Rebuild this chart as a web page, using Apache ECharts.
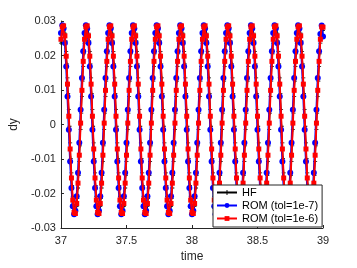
<!DOCTYPE html>
<html>
<head>
<meta charset="utf-8">
<script src="https://cdn.jsdelivr.net/npm/echarts@6/dist/echarts.min.js"></script>
<style>html,body{margin:0;padding:0;background:#fff}#c{width:357px;height:268px}</style>
</head>
<body>
<div id="c"></div>
<script>
// Sampling grids (time axis)
const tStart = 37;
const dtROM = 0.01;   // ROM samples
const dtHF = 0.005;   // HF samples

// HF dy values (t = 37 .. 39, step 0.005)
const hfValues = [
0.0236,0.0261,0.0278,0.0287,0.0288,0.0281,0.0265,0.0242,0.0212,0.0176,0.0135,0.0090,0.0043,-0.0005,-0.0053,-0.0098,-0.0140,-0.0177,-0.0208,-0.0233,-0.0250,-0.0259,-0.0260,-0.0253,-0.0237,-0.0214,-0.0184,-0.0148,-0.0107,-0.0062,-0.0015,0.0033,0.0081,0.0126,0.0168,0.0205,
0.0236,0.0261,0.0278,0.0287,0.0288,0.0281,0.0265,0.0242,0.0212,0.0176,0.0135,0.0090,0.0043,-0.0005,-0.0053,-0.0098,-0.0140,-0.0177,-0.0208,-0.0233,-0.0250,-0.0259,-0.0260,-0.0253,-0.0237,-0.0214,-0.0184,-0.0148,-0.0107,-0.0062,-0.0015,0.0033,0.0081,0.0126,0.0168,0.0205,
0.0236,0.0261,0.0278,0.0287,0.0288,0.0281,0.0265,0.0242,0.0212,0.0176,0.0135,0.0090,0.0043,-0.0005,-0.0053,-0.0098,-0.0140,-0.0177,-0.0208,-0.0233,-0.0250,-0.0259,-0.0260,-0.0253,-0.0237,-0.0214,-0.0184,-0.0148,-0.0107,-0.0062,-0.0015,0.0033,0.0081,0.0126,0.0168,0.0205,
0.0236,0.0261,0.0278,0.0287,0.0288,0.0281,0.0265,0.0242,0.0212,0.0176,0.0135,0.0090,0.0043,-0.0005,-0.0053,-0.0098,-0.0140,-0.0177,-0.0208,-0.0233,-0.0250,-0.0259,-0.0260,-0.0253,-0.0237,-0.0214,-0.0184,-0.0148,-0.0107,-0.0062,-0.0015,0.0033,0.0081,0.0126,0.0168,0.0205,
0.0236,0.0261,0.0278,0.0287,0.0288,0.0281,0.0265,0.0242,0.0212,0.0176,0.0135,0.0090,0.0043,-0.0005,-0.0053,-0.0098,-0.0140,-0.0177,-0.0208,-0.0233,-0.0250,-0.0259,-0.0260,-0.0253,-0.0237,-0.0214,-0.0184,-0.0148,-0.0107,-0.0062,-0.0015,0.0033,0.0081,0.0126,0.0168,0.0205,
0.0236,0.0261,0.0278,0.0287,0.0288,0.0281,0.0265,0.0242,0.0212,0.0176,0.0135,0.0090,0.0043,-0.0005,-0.0053,-0.0098,-0.0140,-0.0177,-0.0208,-0.0233,-0.0250,-0.0259,-0.0260,-0.0253,-0.0237,-0.0214,-0.0184,-0.0148,-0.0107,-0.0062,-0.0015,0.0033,0.0081,0.0126,0.0168,0.0205,
0.0236,0.0261,0.0278,0.0287,0.0288,0.0281,0.0265,0.0242,0.0212,0.0176,0.0135,0.0090,0.0043,-0.0005,-0.0053,-0.0098,-0.0140,-0.0177,-0.0208,-0.0233,-0.0250,-0.0259,-0.0260,-0.0253,-0.0237,-0.0214,-0.0184,-0.0148,-0.0107,-0.0062,-0.0015,0.0033,0.0081,0.0126,0.0168,0.0205,
0.0236,0.0261,0.0278,0.0287,0.0288,0.0281,0.0265,0.0242,0.0212,0.0176,0.0135,0.0090,0.0043,-0.0005,-0.0053,-0.0098,-0.0140,-0.0177,-0.0208,-0.0233,-0.0250,-0.0259,-0.0260,-0.0253,-0.0237,-0.0214,-0.0184,-0.0148,-0.0107,-0.0062,-0.0015,0.0033,0.0081,0.0126,0.0168,0.0205,
0.0236,0.0261,0.0278,0.0287,0.0288,0.0281,0.0265,0.0242,0.0212,0.0176,0.0135,0.0090,0.0043,-0.0005,-0.0053,-0.0098,-0.0140,-0.0177,-0.0208,-0.0233,-0.0250,-0.0259,-0.0260,-0.0253,-0.0237,-0.0214,-0.0184,-0.0148,-0.0107,-0.0062,-0.0015,0.0033,0.0081,0.0126,0.0168,0.0205,
0.0236,0.0261,0.0278,0.0287,0.0288,0.0281,0.0265,0.0242,0.0212,0.0176,0.0135,0.0090,0.0043,-0.0005,-0.0053,-0.0098,-0.0140,-0.0177,-0.0208,-0.0233,-0.0250,-0.0259,-0.0260,-0.0253,-0.0237,-0.0214,-0.0184,-0.0148,-0.0107,-0.0062,-0.0015,0.0033,0.0081,0.0126,0.0168,0.0205,
0.0236,0.0261,0.0278,0.0287,0.0288,0.0281,0.0265,0.0242,0.0212,0.0176,0.0135,0.0090,0.0043,-0.0005,-0.0053,-0.0098,-0.0140,-0.0177,-0.0208,-0.0233,-0.0250,-0.0259,-0.0260,-0.0253,-0.0237,-0.0214,-0.0184,-0.0148,-0.0107,-0.0062,-0.0015,0.0033,0.0081,0.0126,0.0168,0.0205,
0.0236,0.0261,0.0278,0.0285,0.0272
];

// ROM (tol=1e-7) dy values (t = 37 .. 39, step 0.01)
const rom7Values = [
0.0265,0.0288,0.0278,0.0236,0.0168,0.0081,-0.0015,-0.0107,-0.0184,-0.0237,-0.0260,-0.0250,-0.0208,-0.0140,-0.0053,0.0043,0.0135,0.0212,
0.0265,0.0288,0.0278,0.0236,0.0168,0.0081,-0.0015,-0.0107,-0.0184,-0.0237,-0.0260,-0.0250,-0.0208,-0.0140,-0.0053,0.0043,0.0135,0.0212,
0.0265,0.0288,0.0278,0.0236,0.0168,0.0081,-0.0015,-0.0107,-0.0184,-0.0237,-0.0260,-0.0250,-0.0208,-0.0140,-0.0053,0.0043,0.0135,0.0212,
0.0265,0.0288,0.0278,0.0236,0.0168,0.0081,-0.0015,-0.0107,-0.0184,-0.0237,-0.0260,-0.0250,-0.0208,-0.0140,-0.0053,0.0043,0.0135,0.0212,
0.0265,0.0288,0.0278,0.0236,0.0168,0.0081,-0.0015,-0.0107,-0.0184,-0.0237,-0.0260,-0.0250,-0.0208,-0.0140,-0.0053,0.0043,0.0135,0.0212,
0.0265,0.0288,0.0278,0.0236,0.0168,0.0081,-0.0015,-0.0107,-0.0184,-0.0237,-0.0260,-0.0250,-0.0208,-0.0140,-0.0053,0.0043,0.0135,0.0212,
0.0265,0.0288,0.0278,0.0236,0.0168,0.0081,-0.0015,-0.0107,-0.0184,-0.0237,-0.0260,-0.0250,-0.0208,-0.0140,-0.0053,0.0043,0.0135,0.0212,
0.0265,0.0288,0.0278,0.0236,0.0168,0.0081,-0.0015,-0.0107,-0.0184,-0.0237,-0.0260,-0.0250,-0.0208,-0.0140,-0.0053,0.0043,0.0135,0.0212,
0.0265,0.0288,0.0278,0.0236,0.0168,0.0081,-0.0015,-0.0107,-0.0184,-0.0237,-0.0260,-0.0250,-0.0208,-0.0140,-0.0053,0.0043,0.0135,0.0212,
0.0265,0.0288,0.0278,0.0236,0.0168,0.0081,-0.0015,-0.0107,-0.0184,-0.0237,-0.0260,-0.0250,-0.0208,-0.0140,-0.0053,0.0043,0.0135,0.0212,
0.0265,0.0288,0.0278,0.0236,0.0168,0.0081,-0.0015,-0.0107,-0.0184,-0.0237,-0.0260,-0.0250,-0.0208,-0.0140,-0.0053,0.0043,0.0135,0.0212,
0.0262,0.0287,0.0255
];

// ROM (tol=1e-6) dy values (t = 37 .. 39, step 0.01)
const rom6Values = [
0.0247,0.0283,0.0286,0.0257,0.0198,0.0117,0.0024,-0.0071,-0.0155,-0.0219,-0.0255,-0.0258,-0.0229,-0.0170,-0.0089,0.0004,0.0099,0.0183,
0.0247,0.0283,0.0286,0.0257,0.0198,0.0117,0.0024,-0.0071,-0.0155,-0.0219,-0.0255,-0.0258,-0.0229,-0.0170,-0.0089,0.0004,0.0099,0.0183,
0.0247,0.0283,0.0286,0.0257,0.0198,0.0117,0.0024,-0.0071,-0.0155,-0.0219,-0.0255,-0.0258,-0.0229,-0.0170,-0.0089,0.0004,0.0099,0.0183,
0.0247,0.0283,0.0286,0.0257,0.0198,0.0117,0.0024,-0.0071,-0.0155,-0.0219,-0.0255,-0.0258,-0.0229,-0.0170,-0.0089,0.0004,0.0099,0.0183,
0.0247,0.0283,0.0286,0.0257,0.0198,0.0117,0.0024,-0.0071,-0.0155,-0.0219,-0.0255,-0.0258,-0.0229,-0.0170,-0.0089,0.0004,0.0099,0.0183,
0.0247,0.0283,0.0286,0.0257,0.0198,0.0117,0.0024,-0.0071,-0.0155,-0.0219,-0.0255,-0.0258,-0.0229,-0.0170,-0.0089,0.0004,0.0099,0.0183,
0.0247,0.0283,0.0286,0.0257,0.0198,0.0117,0.0024,-0.0071,-0.0155,-0.0219,-0.0255,-0.0258,-0.0229,-0.0170,-0.0089,0.0004,0.0099,0.0183,
0.0247,0.0283,0.0286,0.0257,0.0198,0.0117,0.0024,-0.0071,-0.0155,-0.0219,-0.0255,-0.0258,-0.0229,-0.0170,-0.0089,0.0004,0.0099,0.0183,
0.0247,0.0283,0.0286,0.0257,0.0198,0.0117,0.0024,-0.0071,-0.0155,-0.0219,-0.0255,-0.0258,-0.0229,-0.0170,-0.0089,0.0004,0.0099,0.0183,
0.0247,0.0283,0.0286,0.0257,0.0198,0.0117,0.0024,-0.0071,-0.0155,-0.0219,-0.0255,-0.0258,-0.0229,-0.0170,-0.0089,0.0004,0.0099,0.0183,
0.0247,0.0283,0.0286,0.0257,0.0198,0.0117,0.0024,-0.0071,-0.0155,-0.0219,-0.0255,-0.0258,-0.0229,-0.0170,-0.0089,0.0004,0.0099,0.0183,
0.0247,0.0283,0.0282
];

const seriesNames = ['HF', 'ROM (tol=1e-7)', 'ROM (tol=1e-6)'];
const xTicks = [37, 37.5, 38, 38.5, 39];
const yTicks = [-0.03, -0.02, -0.01, 0, 0.01, 0.02, 0.03];

function pairs(vals, dt) {
  return vals.map((v, i) => [+(tStart + i * dt).toFixed(4), v]);
}

const axisColor = '#262626';
const font = 'Liberation Sans, Arial, Helvetica, sans-serif';
const plusPath = 'path://M4,0H6V4H10V6H6V10H4V6H0V4H4Z';

const chart = echarts.init(document.getElementById('c'), null, {renderer: 'canvas'});
chart.setOption({
  animation: false,
  backgroundColor: '#fff',
  grid: {left: 48, right: 34, top: 21, bottom: 33, containLabel: false},
  xAxis: {
    type: 'value', min: xTicks[0], max: xTicks[xTicks.length - 1], interval: 0.5,
    name: 'time', nameLocation: 'middle', nameGap: 23,
    nameTextStyle: {color: axisColor, fontSize: 12, fontFamily: font},
    axisLine: {show: true, onZero: false, lineStyle: {color: axisColor, width: 1}},
    axisTick: {show: true, inside: true, length: 3, lineStyle: {color: axisColor}},
    axisLabel: {color: axisColor, fontSize: 11, fontFamily: font, margin: 7},
    splitLine: {show: false}
  },
  yAxis: {
    type: 'value', min: yTicks[0], max: yTicks[yTicks.length - 1], interval: 0.01,
    name: 'dy', nameLocation: 'middle', nameGap: 35, nameRotate: 90,
    nameTextStyle: {color: axisColor, fontSize: 12, fontFamily: font},
    axisLine: {show: true, onZero: false, lineStyle: {color: axisColor, width: 1}},
    axisTick: {show: true, inside: true, length: 3, lineStyle: {color: axisColor}},
    axisLabel: {color: axisColor, fontSize: 11, fontFamily: font, margin: 5,
      formatter: v => (Math.abs(v) < 1e-9 ? '0' : (+v.toFixed(2)).toString())},
    splitLine: {show: false}
  },
  legend: {
    orient: 'vertical', left: 213, top: 185, z: 50, zlevel: 1,
    itemWidth: 20, itemHeight: 6, itemGap: 2,
    padding: [2, 4, 3, 3],
    backgroundColor: '#fff', borderColor: axisColor, borderWidth: 1,
    textStyle: {color: '#000', fontSize: 11, fontFamily: font},
    data: seriesNames
  },
  series: [
    {
      name: seriesNames[0], type: 'line', data: pairs(hfValues, dtHF),
      lineStyle: {color: '#000', width: 1}, itemStyle: {color: '#000'},
      symbol: plusPath, symbolSize: 4, showSymbol: true, showAllSymbol: true, z: 2
    },
    {
      name: seriesNames[1], type: 'line', data: pairs(rom7Values, dtROM),
      lineStyle: {color: '#0000ff', width: 2}, itemStyle: {color: '#0000ff'},
      symbol: 'circle', symbolSize: 6, showSymbol: true, showAllSymbol: true, z: 3
    },
    {
      name: seriesNames[2], type: 'line', data: pairs(rom6Values, dtROM),
      lineStyle: {color: '#ff0000', width: 2}, itemStyle: {color: '#ff0000'},
      symbol: 'rect', symbolSize: 5, showSymbol: true, showAllSymbol: true, z: 4
    }
  ]
});
</script>
</body>
</html>
